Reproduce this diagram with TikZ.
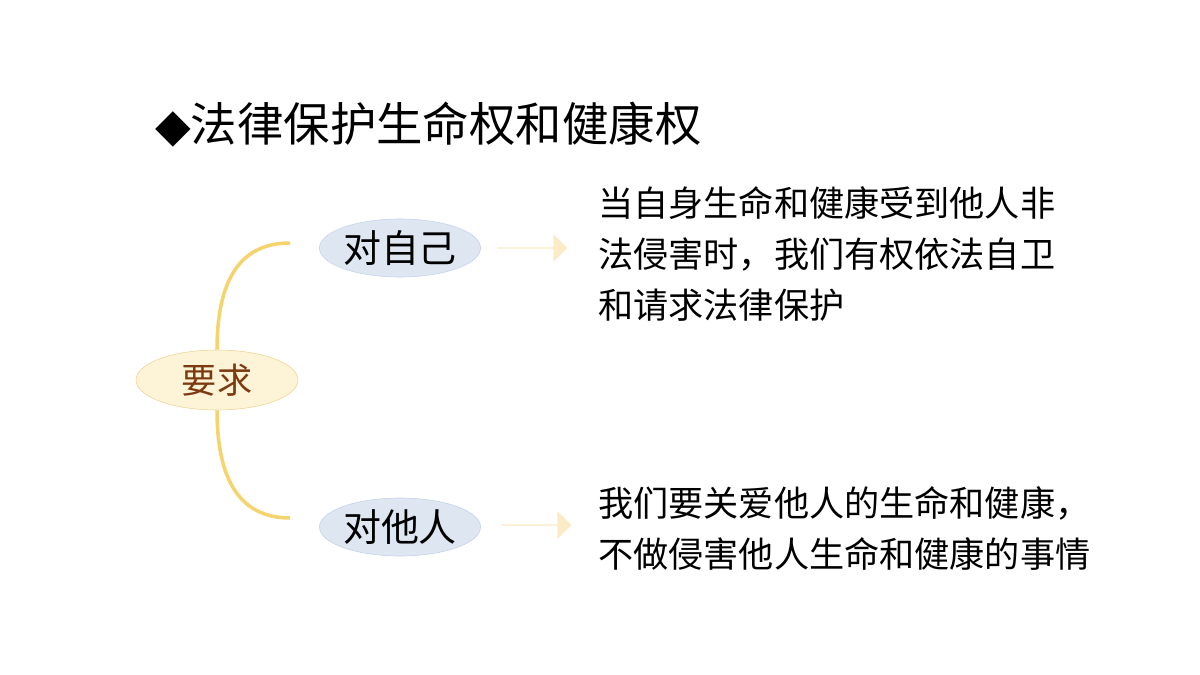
\documentclass[tikz,border=0pt]{standalone}
\usepackage{fontspec}
\setmainfont{Noto Sans CJK SC}
\newfontfamily\symfont{DejaVu Sans}
\usetikzlibrary{positioning, shapes.arrows, shapes.geometric}
\definecolor{branchline}{HTML}{F5D46E}
\definecolor{rootfill}{HTML}{FDF3D6}
\definecolor{rootdraw}{HTML}{EFD493}
\definecolor{rootText}{HTML}{7B3A10}
\definecolor{leaffill}{HTML}{DEE6F2}
\definecolor{leafdraw}{HTML}{C3D2E8}
\definecolor{arrowfill}{HTML}{FBEBC6}
\tikzset{
  rootnode/.style={shape=ellipse, draw=rootdraw, fill=rootfill, minimum width=162*0.025cm, minimum height=60*0.025cm, text=rootText, font=\fontsize{25}{28}\selectfont, inner sep=0pt},
  leafnode/.style={shape=ellipse, draw=leafdraw, fill=leaffill, minimum width=160*0.025cm, minimum height=58*0.025cm, font=\fontsize{27}{30}\selectfont, inner sep=0pt},
  fatarrow/.style={single arrow, fill=arrowfill, draw=none, minimum height=70*0.025cm, minimum width=28*0.025cm, single arrow head extend=7*0.025cm, single arrow tip angle=90, inner sep=0pt},
  bodytext/.style={anchor=north west, align=left, font=\fontsize{25}{36.5}\selectfont, inner sep=0pt}
}
\begin{document}
\begin{tikzpicture}[x=0.025cm, y=-0.025cm]
    \useasboundingbox (0,0) rectangle (1200,675);
    \node[anchor=west, inner sep=0pt, font=\fontsize{33}{38}\selectfont] (title) at (155,125) {{\symfont ◆}法律保护生命权和健康权};

    \node[rootnode] (req) at (217,380) {要求};
    \node[leafnode] (self) at (400,248) {对自己};
    \node[leafnode] (other) at (400,527) {对他人};

    \coordinate (selfend) at (290,243);
    \coordinate (otherend) at (290,518);
    \draw[branchline, line width=2.5pt] (req.north) .. controls (217,280) and (240,243) .. (selfend);
    \draw[branchline, line width=2.5pt] (req.south) .. controls (217,480) and (240,518) .. (otherend);

    \node[fatarrow] (arrowA) at (532,248) {};
    \node[fatarrow] (arrowB) at (536,525) {};

    \node[bodytext] (textA) at (598,186) {当自身生命和健康受到他人非\\法侵害时，我们有权依法自卫\\和请求法律保护};
    \node[bodytext] (textB) at (598,486) {我们要关爱他人的生命和健康，\\不做侵害他人生命和健康的事情};
\end{tikzpicture}
\end{document}
